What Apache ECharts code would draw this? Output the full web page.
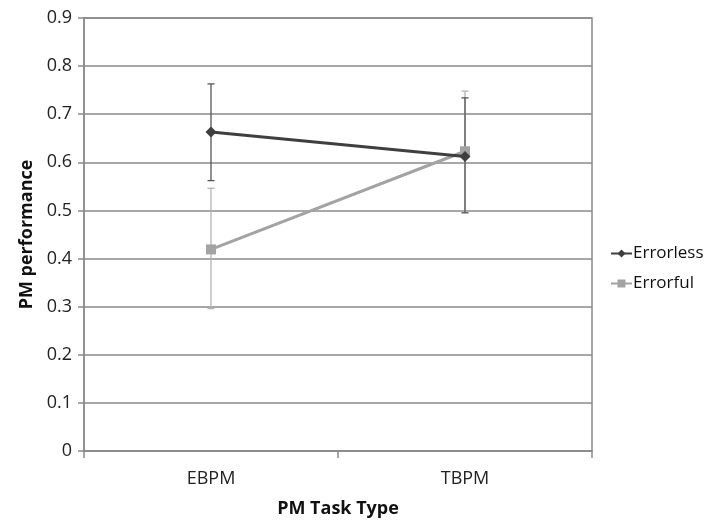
<!DOCTYPE html>
<html><head><meta charset="utf-8">
<script src="https://cdn.jsdelivr.net/npm/echarts@6/dist/echarts.min.js"></script>
<style>html,body{margin:0;padding:0;background:#fff}#c{width:712px;height:523px}</style>
</head><body><div id="c"></div>
<script>
const categories = ['EBPM', 'TBPM'];
const seriesNames = ['Errorless', 'Errorful'];
const errorlessMean = [0.663, 0.612];
const errorlessLow = [0.562, 0.495];
const errorlessHigh = [0.763, 0.734];
const errorfulMean = [0.419, 0.623];
const errorfulLow = [0.296, 0.497];
const errorfulHigh = [0.546, 0.748];
const yTicks = [0, 0.1, 0.2, 0.3, 0.4, 0.5, 0.6, 0.7, 0.8, 0.9];

const FONT = '"Open Sans", "Liberation Sans", sans-serif';
const darkC = '#3f3f3f', lightC = '#a3a3a3';

function errSeries(name, low, high, color) {
  return {
    type: 'custom', name: name + ' err', silent: true, z: 1,
    data: categories.map((c, i) => [i, low[i], high[i]]),
    renderItem: function (params, api) {
      const x = api.value(0);
      const p1 = api.coord([x, api.value(1)]);
      const p2 = api.coord([x, api.value(2)]);
      const w = 3.5;
      const st = { stroke: color, lineWidth: 1.3 };
      return { type: 'group', children: [
        { type: 'line', shape: { x1: p1[0], y1: p1[1], x2: p2[0], y2: p2[1] }, style: st },
        { type: 'line', shape: { x1: p1[0]-w, y1: p1[1], x2: p1[0]+w, y2: p1[1] }, style: st },
        { type: 'line', shape: { x1: p2[0]-w, y1: p2[1], x2: p2[0]+w, y2: p2[1] }, style: st }
      ]};
    }
  };
}

const chart = echarts.init(document.getElementById('c'), null, { renderer: 'canvas' });
chart.setOption({
  animation: false,
  backgroundColor: '#fff',
  textStyle: { fontFamily: FONT },
  grid: { left: 84, right: 120, top: 18, bottom: 68, show: true, borderColor: '#8a8a8a', borderWidth: 1.5 },
  legend: {
    orient: 'vertical', left: 605, top: 240, itemGap: 13,
    itemWidth: 21, itemHeight: 10,
    data: seriesNames,
    textStyle: { fontFamily: FONT, fontSize: 17, color: '#111', padding: [0,0,0,-4] }
  },
  xAxis: {
    type: 'category', data: categories, boundaryGap: true,
    axisLine: { lineStyle: { color: '#8a8a8a', width: 1.5 } },
    axisTick: { show: true, length: 7, lineStyle: { color: '#8a8a8a', width: 1.5 } },
    axisLabel: { fontFamily: FONT, fontSize: 18, color: '#222', margin: 19 },
    name: 'PM Task Type', nameLocation: 'middle', nameGap: 49,
    nameTextStyle: { fontFamily: FONT, fontSize: 18, fontWeight: 'bold', color: '#111' }
  },
  yAxis: {
    type: 'value', min: 0, max: 0.9, interval: 0.1,
    axisLine: { show: true, lineStyle: { color: '#8a8a8a', width: 1.5 } },
    axisTick: { show: true, length: 6, lineStyle: { color: '#8a8a8a', width: 1.5 } },
    splitLine: { show: true, lineStyle: { color: '#8a8a8a', width: 1.5 } },
    axisLabel: { fontFamily: FONT, fontSize: 18, color: '#222', margin: 12,
      formatter: v => { const t = yTicks.find(k => Math.abs(k - v) < 1e-9); return t === 0 ? '0' : String(t); } },
    name: 'PM performance', nameLocation: 'middle', nameGap: 47, nameRotate: 90,
    nameTextStyle: { fontFamily: FONT, fontSize: 18, fontWeight: 'bold', color: '#111' }
  },
  series: [
    errSeries('Errorful', errorfulLow, errorfulHigh, '#b3b3b3'),
    errSeries('Errorless', errorlessLow, errorlessHigh, '#555555'),
    {
      name: 'Errorful', type: 'line', data: errorfulMean, z: 3,
      symbol: 'rect', symbolSize: 10,
      lineStyle: { color: lightC, width: 3 },
      itemStyle: { color: lightC }
    },
    {
      name: 'Errorless', type: 'line', data: errorlessMean, z: 4,
      symbol: 'diamond', symbolSize: 11,
      lineStyle: { color: darkC, width: 3 },
      itemStyle: { color: darkC }
    }
  ]
});
</script></body></html>
